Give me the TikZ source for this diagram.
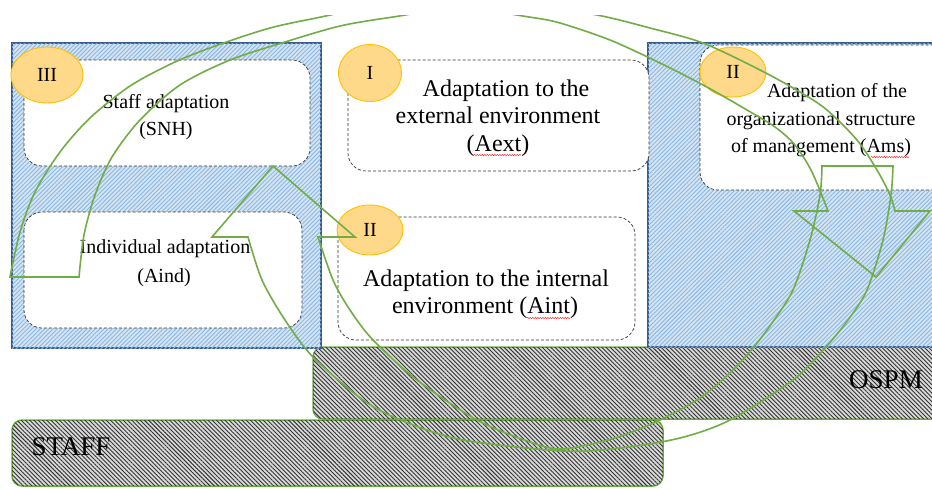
\documentclass[tikz,border=0pt]{standalone}
\usepackage{fontspec}
\setmainfont{Liberation Serif}
\usetikzlibrary{patterns.meta,decorations.pathmorphing,shapes.geometric}
\definecolor{gline}{HTML}{70AD47}
\definecolor{bborder}{HTML}{385D8A}
\definecolor{bhatch}{HTML}{8DB6E0}
\definecolor{bbase}{HTML}{D3E4F4}
\definecolor{ofill}{HTML}{FFD98A}
\definecolor{oborder}{HTML}{FFC000}
\begin{document}
\begin{tikzpicture}[x=1pt,y=-1pt,
  bluepanel/.style={draw=bborder,line width=1.3pt,fill=bbase,
    postaction={pattern={Lines[angle=45,distance=3pt,line width=0.9pt]},pattern color=bhatch}},
  graypanel/.style={draw=gline,line width=1.5pt,rounded corners=10pt,fill=black!15,
    postaction={pattern={Lines[angle=-45,distance=3pt,line width=0.9pt]},pattern color=black!80}},
  dashbox/.style={draw=black!80,dash pattern=on 3pt off 2pt,line width=0.7pt,
    fill=white,rounded corners=18pt},
  numoval/.style={ellipse,draw=oborder,line width=0.9pt,fill=ofill,inner sep=0pt,
    font=\fontsize{20}{24}\selectfont},
  lbl/.style={inner sep=0pt,anchor=base,font=\fontsize{20}{24}\selectfont},
  lblbig/.style={inner sep=0pt,anchor=base,font=\fontsize{24}{28}\selectfont},
  lblhuge/.style={inner sep=0pt,anchor=base,font=\fontsize{27}{30}\selectfont},
  garrow/.style={draw=gline,line width=1.6pt,line join=miter},
  squig/.style={draw=red!80,line width=0.5pt,decorate,
    decoration={snake,amplitude=0.7pt,segment length=2.5pt}}]
\clip (0,0) rectangle (932,488);
\fill[white] (0,0) rectangle (932,488);
% bottom bands
\path[graypanel] (313,347) rectangle (950,419);
\path[graypanel] (12,420) rectangle (663,486);
% blue panels
\path[bluepanel] (12,43) rectangle (321,348);
\path[bluepanel] (648,43) rectangle (945,347);
% white dashed boxes
\path[dashbox] (24,60) rectangle (310,166);
\path[dashbox] (24,212) rectangle (302,328);
\path[dashbox] (348,60) rectangle (649,171);
\path[dashbox] (338,217) rectangle (635,340);
\path[dashbox] (700,45) rectangle (960,190);
% numbered ovals
\node[numoval,minimum width=72pt,minimum height=56pt] (n3) at (47,75) {III};
\node[numoval,minimum width=63pt,minimum height=57pt] (n1) at (370,73) {I};
\node[numoval,minimum width=66pt,minimum height=50pt] (n2a) at (370,230) {II};
\node[numoval,minimum width=66pt,minimum height=50pt] (n2b) at (733,72) {II};
% texts
\node[lbl] (t1a) at (166,108) {Staff adaptation};
\node[lbl] (t1b) at (166,135) {(SNH)};
\node[lbl] (t2a) at (165,253) {Individual adaptation};
\node[lbl] (t2b) at (164,282) {(Aind)};
\node[lblbig] (t3a) at (506,96) {Adaptation to the};
\node[lblbig] (t3b) at (498,123) {external environment};
\node[lblbig] (t3c) at (498,151) {(Aext)};
\node[lblbig] (t4a) at (486,286) {Adaptation to the internal};
\node[lblbig] (t4b) at (485,313) {environment (Aint)};
\node[lbl] (t5a) at (837,97) {Adaptation of the};
\node[lbl] (t5b) at (821,125) {organizational structure};
\node[lbl] (t5c) at (821,152) {of management (Ams)};
\node[lblhuge] (ospm) at (886,388) {OSPM};
\node[lblhuge] (staff) at (71,455) {STAFF};
% spell-check squiggles
\draw[squig] (474,155) -- (521,155);
\draw[squig] (527,318) -- (570,318);
\draw[squig] (871,157) -- (909,157);
% green circular arrows
\begin{scope}
\clip (0,15) rectangle (932,488);
% arrow A: tail at left, head at right
\draw[garrow] (10,277) -- (79,277)
  -- plot[smooth] coordinates {(79,277) (84,235) (95,195) (112,157) (140,120)
     (180,85) (230,60) (285,42) (340,26) (393,17) (460,8) (529,17) (560,23)
     (610,40) (660,63) (705,86) (747,110) (775,127) (795,145) (812,172) (828,211)}
  -- (794,211) -- (876,277) -- (930,211) -- (895,211)
  -- plot[smooth] coordinates {(895,211) (890,195) (877,170) (857,140) (827,110)
     (800,92) (760,70) (703,43) (650,28) (597,15) (520,3) (448,-3) (380,5)
     (321,17) (270,28) (218,45) (175,62) (130,86) (90,118) (60,152) (35,192)
     (20,232) (10,277)}
  -- cycle;
% arrow B: tail at top right, head at left
\draw[garrow] (893,166) -- (822,166)
  -- plot[smooth] coordinates {(822,166) (820,195) (810,240) (793,290) (772,323)
     (753,348) (730,373) (700,398) (660,420) (615,438) (563,449) (530,442)
     (477,420) (417,380) (373,340) (350,310) (333,280) (318,237)}
  -- (355,237) -- (273,166) -- (212,237) -- (248,237)
  -- plot[smooth] coordinates {(248,237) (262,280) (285,320) (313,357) (363,400)
     (403,421) (463,440) (563,451) (620,448) (680,438) (730,420) (793,380)
     (825,348) (848,320) (867,290) (883,240) (891,195) (893,166)}
  -- cycle;
\end{scope}
\end{tikzpicture}
\end{document}
